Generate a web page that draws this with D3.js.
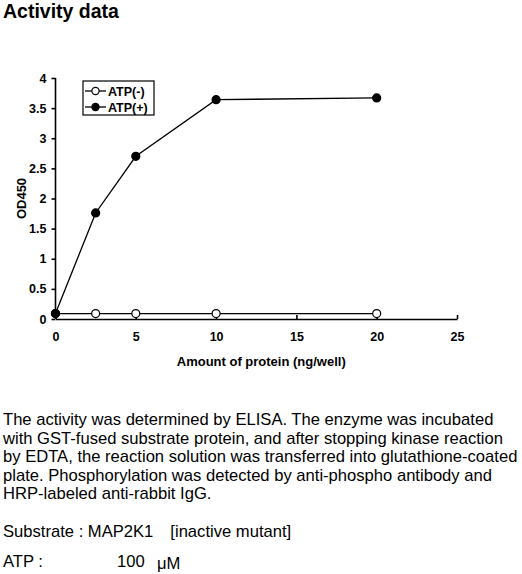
<!DOCTYPE html>
<html>
<head>
<meta charset="utf-8">
<script src="https://cdn.jsdelivr.net/npm/d3@7"></script>
<style>
  body { margin: 0; background: #fff; }
  text { font-family: "Liberation Sans", Arial, sans-serif; }
</style>
</head>
<body>
<div id="chart"></div>
<script>
// chart data
const protein = [0, 2.5, 5, 10, 20];
const atpMinus = [0.09, 0.09, 0.09, 0.09, 0.09];
const atpPlus = [0.09, 1.76, 2.7, 3.64, 3.67];
const seriesNames = ["ATP(-)", "ATP(+)"];
const xTicks = [0, 5, 10, 15, 20, 25];
const yTicks = [0, 0.5, 1, 1.5, 2, 2.5, 3, 3.5, 4];

const paragraph = [
  "The activity was determined by ELISA. The enzyme was incubated",
  "with GST-fused substrate protein, and after stopping kinase reaction",
  "by EDTA, the reaction solution was transferred into glutathione-coated",
  "plate. Phosphorylation was detected by anti-phospho antibody and",
  "HRP-labeled anti-rabbit IgG."
];

const width = 522,
  height = 574;

let svg = d3
  .select("#chart")
  .append("svg")
  .attr("width", width)
  .attr("height", height);

// title
svg
  .append("text")
  .attr("x", 3)
  .attr("y", 18)
  .style("font-size", "19.5px")
  .style("font-weight", "bold")
  .text("Activity data");

let x = d3.scaleLinear().domain([0, 25]).range([55.5, 457]);
let y = d3.scaleLinear().domain([0, 4]).range([319, 78]);

// y axis, ticks pointing out
let yAxis = svg
  .append("g")
  .attr("transform", `translate(${x(0)},0)`)
  .call(
    d3.axisLeft(y).tickValues(yTicks).tickSize(4).tickPadding(5)
      .tickFormat((d) => String(d))
  );

// x axis, ticks pointing up into the plot
let xAxis = svg
  .append("g")
  .attr("transform", `translate(0,${y(0)})`)
  .call(d3.axisBottom(x).tickValues(xTicks).tickSizeInner(-4).tickSizeOuter(0).tickPadding(13));

[xAxis, yAxis].forEach((g) => {
  g.select(".domain").attr("stroke", "#000").attr("stroke-width", 1.6);
  g.selectAll(".tick line").attr("stroke", "#000").attr("stroke-width", 1.6);
  g.selectAll(".tick text")
    .attr("fill", "#000")
    .style("font-size", "12.5px")
    .style("font-weight", "bold")
    .style("font-family", "'Liberation Sans', Arial, sans-serif");
});
yAxis.select(".domain").attr("d", `M0,${y(4)}V${y(0)}`);
xAxis.selectAll(".tick text").attr("dy", "0.71em");

// axis titles
svg
  .append("text")
  .attr("transform", `translate(26,${(y(0) + y(4)) / 2}) rotate(-90)`)
  .attr("text-anchor", "middle")
  .style("font-size", "13px")
  .style("font-weight", "bold")
  .text("OD450");

svg
  .append("text")
  .attr("x", (x(0) + x(25)) / 2 + 5)
  .attr("y", 366)
  .attr("text-anchor", "middle")
  .style("font-size", "13px")
  .style("font-weight", "bold")
  .text("Amount of protein (ng/well)");

// lines + markers
let line = d3
  .line()
  .x((d) => x(d[0]))
  .y((d) => y(d[1]));

let series = [
  { name: seriesNames[0], values: d3.zip(protein, atpMinus), fill: "#fff" },
  { name: seriesNames[1], values: d3.zip(protein, atpPlus), fill: "#000" },
];

series.forEach((s) => {
  svg
    .append("path")
    .attr("d", line(s.values))
    .attr("fill", "none")
    .attr("stroke", "#000")
    .attr("stroke-width", 1.3);
});

series.forEach((s) => {
  svg
    .selectAll(null)
    .data(s.values)
    .join("circle")
    .attr("cx", (d) => x(d[0]))
    .attr("cy", (d) => y(d[1]))
    .attr("r", 4)
    .attr("fill", s.fill)
    .attr("stroke", "#000")
    .attr("stroke-width", 1.2);
});

// legend
let legend = svg.append("g").attr("transform", "translate(83,81)");
legend
  .append("rect")
  .attr("width", 71)
  .attr("height", 34)
  .attr("fill", "#fff")
  .attr("stroke", "#000")
  .attr("stroke-width", 1.2);

series.forEach((s, i) => {
  let row = legend.append("g").attr("transform", `translate(0,${10 + i * 16})`);
  row.append("line").attr("x1", 2).attr("x2", 23).attr("stroke", "#000").attr("stroke-width", 1.3);
  row
    .append("circle")
    .attr("cx", 12.5)
    .attr("r", 3.6)
    .attr("fill", s.fill)
    .attr("stroke", "#000")
    .attr("stroke-width", 1.2);
  row
    .append("text")
    .attr("x", 25)
    .attr("dy", "0.36em")
    .style("font-size", "12.5px")
    .style("font-weight", "bold")
    .text(s.name);
});

// description text
svg
  .selectAll(".para")
  .data(paragraph)
  .join("text")
  .attr("class", "para")
  .attr("x", 3)
  .attr("y", (d, i) => 425 + i * 18.6)
  .style("font-size", "16.6px")
  .text((d) => d);

svg
  .append("text")
  .attr("x", 3)
  .attr("y", 537)
  .style("font-size", "16.6px")
  .text("Substrate : MAP2K1　[inactive mutant]");

svg.append("text").attr("x", 3).attr("y", 567).style("font-size", "16.6px").text("ATP :");
svg.append("text").attr("x", 117).attr("y", 567).style("font-size", "16.6px").text("100");
svg.append("text").attr("x", 157).attr("y", 569).style("font-size", "16.6px").text("μM");
</script>
</body>
</html>
